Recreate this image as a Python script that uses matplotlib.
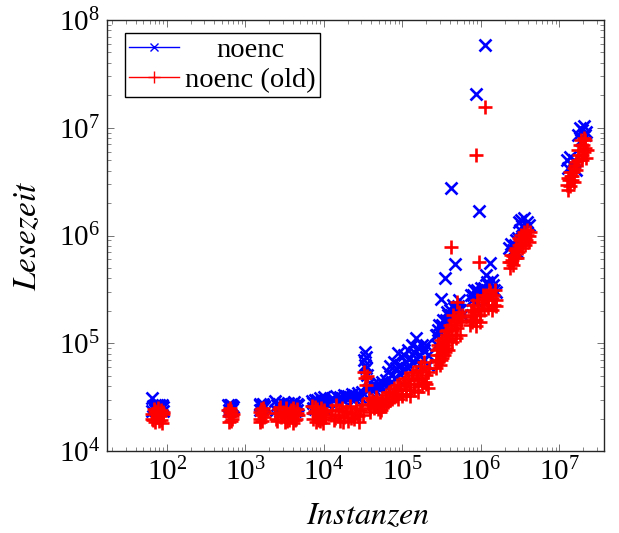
import matplotlib

matplotlib.use("Agg")
import matplotlib.pyplot as plt
from matplotlib.lines import Line2D
from matplotlib.ticker import FixedLocator, LogFormatterSciNotation, LogLocator, NullFormatter
import numpy as np

# Instanzen / Lesezeit, cluster by cluster
x_c1 = [64, 66, 68, 70, 72, 74, 76, 78, 80, 82, 84, 86, 88, 65, 71, 77, 83, 89]
noenc_c1 = [31000, 26000, 25000, 27000, 24500, 26500, 25500, 27000, 24000,
            26000, 25000, 26500, 25500, 23500, 24000, 23000, 24500, 23500]
old_c1 = [22000, 19500, 24500, 18500, 23000, 20500, 25000, 19000, 22500,
          21000, 24000, 18000, 22000, 20000, 23500, 21500, 19500, 23000]

x_c2 = [600, 615, 630, 645, 660, 675, 690, 608, 638, 668]
noenc_c2 = [27000, 26000, 26500, 25000, 27000, 26000, 25500, 24000, 23500, 24500]
old_c2 = [24000, 21000, 22500, 19000, 23500, 20000, 22000, 18500, 25000, 21000]

x_c3 = [1520, 1550, 1580, 1610, 1640, 1670, 1700, 1720, 1535, 1625]
noenc_c3 = [26500, 27500, 26000, 27000, 26500, 27500, 26000, 25500, 24000, 24500]
old_c3 = [23000, 20000, 24500, 19000, 22000, 25000, 20500, 23500, 18500, 21500]

x_c4 = [2400, 2550, 2700, 2850, 3000, 3150, 3300, 3450, 3600, 3750, 3900, 4050,
        4200, 4350, 4500, 4700, 2480, 2780, 3080, 3380, 3680, 3980, 4280, 4600]
noenc_c4 = [29000, 26500, 27500, 26000, 28000, 26500, 27000, 28000, 26000, 27500,
            26500, 27000, 28500, 26000, 27500, 26500, 24000, 23500, 24500, 24000,
            23000, 24500, 23500, 24000]
old_c4 = [22500, 19000, 24500, 20500, 23000, 18500, 25000, 21000, 19500, 24000,
          22000, 18000, 23500, 20000, 24500, 21500, 20000, 25500, 21500, 19000,
          23000, 25000, 19500, 22500]

x_c5 = [7000, 7300, 7600, 7900, 8200, 8500, 8800, 9100, 9400, 9700, 10000, 10300,
        7150, 7750, 8350, 8950, 9550, 10150]
noenc_c5 = [29000, 28000, 30000, 27500, 29500, 28500, 31000, 28000, 30000, 29000,
            31500, 28500, 25000, 24500, 25500, 24000, 25000, 24500]
old_c5 = [26000, 20000, 23500, 18500, 24500, 21000, 19000, 25000, 22000, 18000,
          23000, 20500, 22500, 25500, 19500, 23000, 20000, 24000]

x_c6 = [12600, 13400, 14200, 15100, 16000, 17000, 18000, 19100, 20300, 21500,
        22800, 24200, 25700, 27200, 28800, 30600, 32400, 33300, 34300, 35400,
        36400, 38600, 41000, 43400, 46100, 48900, 51700, 54900, 58200, 61700,
        65400, 69300, 73500, 78000, 82700, 87700, 93000, 98600, 104500, 111000,
        118000, 125000, 132500, 140500, 149000, 158000, 167000, 177000, 188000,
        199500, 211500]
noenc_c6 = [31000, 29700, 32400, 28500, 31700, 30400, 33100, 31000, 32400, 31700,
            33800, 31000, 32400, 34500, 31700, 35300, 69900, 83000, 58900, 50700,
            36800, 38500, 41000, 37600, 40100, 42800, 39300, 43700, 41000, 45600,
            54100, 61500, 50700, 66900, 58900, 81200, 62800, 56500, 77800, 66900,
            86600, 72800, 96300, 83000, 112000, 90400, 77800, 96300, 86600, 96300,
            77800]
old_c6 = [24000, 19400, 26700, 21600, 19000, 25000, 20700, 23500, 19000, 26100,
          22000, 19800, 25000, 21100, 24000, 26700, 54100, 47600, 41000, 49600,
          27300, 23000, 29700, 25000, 31700, 26700, 23000, 31000, 26100, 33100,
          28500, 35300, 30400, 38500, 32400, 36800, 41000, 33800, 43700, 36800,
          45600, 39300, 50700, 41900, 54100, 45600, 56500, 47600, 66900, 50700,
          54100]
# extra points of the red band
x_c6_b = [38600, 43400, 48900, 54900, 61700, 69300, 78000, 87700, 98600, 111000,
          125000, 140500, 158000, 177000, 199500, 211500,
          12200, 13800, 15500, 17500, 19700, 22100, 24800, 27900, 31500, 37500,
          42200, 47500, 53300, 59800, 67300, 75700, 85200, 95800, 108000, 121000,
          136000, 153000, 172000, 194000, 218000]
old_c6_b = [25000, 28500, 24500, 26100, 27900, 29700, 31700, 30400, 32400, 33800,
            32400, 36800, 35300, 40100, 41900, 38500,
            21600, 20200, 24000, 18600, 23000, 20200, 22500, 18600, 21600, 31000,
            26700, 29700, 24000, 29700, 35300, 33100, 41000, 36800, 47600, 41900,
            54100, 47600, 61500, 43700, 58900]
# extra points of the blue band
x_c6_m = [65400, 73500, 82700, 93000, 104500, 118000, 132500, 149000, 167000,
          188000, 211500, 33300, 34300]
noenc_c6_m = [41000, 43700, 47600, 51800, 56500, 58900, 66900, 72800, 62800,
              69900, 62800, 62800, 74000]

x_c7 = [267000, 275000, 283000, 300000, 309000, 318000, 337000, 348000, 358000,
        380000, 403000, 415000, 428000, 454000, 467000, 481000, 495000, 510000,
        540000, 573000]
noenc_c7 = [119000, 96300, 133000, 107000, 258000, 148000, 133000, 403000, 164000,
            183000, 204000, 183000, 174000, 213000, 543000, 195000, 204000, 220000,
            204000, 183000]
old_c7 = [69900, 86600, 96300, 77800, 107000, 90400, 112000, 83000, 129000,
          107000, 148000, 782000, 133000, 164000, 119000, 148000, 241000, 174000,
          159000, 183000]
x_c7_b = [267000, 283000, 300000, 318000, 337000, 358000, 380000, 428000, 481000,
          540000, 275000, 291000, 309000, 327000, 348000, 369000, 391000, 415000,
          441000, 467000, 495000, 525000, 557000]
old_c7_b = [58900, 66900, 62800, 72800, 77800, 90400, 86600, 102000, 112000, 119000,
            77800, 90400, 69900, 102000, 96300, 133000, 119000, 138000, 183000,
            159000, 138000, 195000, 164000]
x_c7_m = [275000, 291000, 327000, 369000, 441000, 525000]
noenc_c7_m = [119000, 148000, 164000, 195000, 226000, 252000]

x_c8 = [741000, 768000, 814000, 864000, 916000, 943000, 864000, 971000, 1030000,
        1090000, 1120000, 1160000, 1230000, 1300000, 1380000, 1460000, 1550000]
noenc_c8 = [280000, 252000, 312000, 246000, 286000, 1690000, 20600000, 262000,
            300000, 325000, 58700000, 430000, 347000, 556000, 386000, 312000, 300000]
old_c8 = [174000, 159000, 195000, 164000, 213000, 568000, 5580000, 183000, 241000,
          262000, 15600000, 280000, 252000, 300000, 262000, 226000, 252000]
x_c8_b = [724000, 790000, 864000, 971000, 1090000, 1230000, 1380000, 1550000,
          746000, 791000, 839000, 890000, 1000000, 1060000, 1190000, 1260000,
          1420000, 1510000]
old_c8_b = [148000, 164000, 146000, 159000, 204000, 213000, 204000, 220000,
            204000, 226000, 183000, 252000, 204000, 280000, 226000, 312000,
            280000, 312000]
x_c8_m = [791000, 890000, 1000000, 1190000, 1420000]
noenc_c8_m = [280000, 312000, 325000, 370000, 347000]

x_c9 = [2270000, 2410000, 2550000, 2710000, 2870000, 3050000, 3140000, 3230000,
        3330000, 3530000, 3630000, 3850000, 4090000]
noenc_c9 = [766000, 834000, 733000, 815000, 700000, 1330000, 1120000, 1390000,
            1220000, 1450000, 1170000, 1330000, 1250000]
old_c9 = [568000, 660000, 532000, 733000, 620000, 815000, 908000, 1010000, 766000,
          1080000, 948000, 1120000, 990000]
x_c9_b = [2340000, 2480000, 2630000, 2790000, 2960000, 3330000, 3740000, 4210000,
          2410000, 2550000, 2710000, 3050000, 3230000, 3430000, 3630000, 3850000,
          4090000]
old_c9_b = [499000, 593000, 660000, 766000, 700000, 834000, 908000, 1080000,
            568000, 640000, 620000, 948000, 815000, 908000, 815000, 1010000, 870000]
x_c9_m = [2790000, 2960000]
noenc_c9_m = [908000, 950000]

x_c10 = [12400000, 12800000, 13600000, 14400000, 15300000, 16200000, 17200000,
         18300000, 18800000, 19400000, 20500000, 21100000, 21800000]
noenc_c10 = [5020000, 4200000, 5300000, 4510000, 5020000, 4050000, 8570000,
             10000000, 7700000, 9530000, 10400000, 8570000, 9200000]
old_c10 = [2940000, 3400000, 3900000, 3270000, 4200000, 4800000, 6210000, 6920000,
           7700000, 5580000, 8000000, 6500000, 5250000]
x_c10_b = [12800000, 13600000, 14400000, 15300000, 16200000, 17200000, 19400000,
           20500000, 13200000, 14000000, 14900000, 15700000, 17700000, 19900000,
           21100000, 22400000]
old_c10_b = [2640000, 2880000, 3560000, 3130000, 4050000, 5020000, 5020000, 5950000,
             3270000, 3560000, 3900000, 4510000, 5580000, 6920000, 7700000, 6210000]

# the one outlier of noenc near 4e5 instances
x_out = [415000]
noenc_out = [2760000]

x_ticks = [1e2, 1e3, 1e4, 1e5, 1e6, 1e7]
y_ticks = [1e4, 1e5, 1e6, 1e7, 1e8]

BLUE = (0.0, 0.0, 1.0)
RED = (1.0, 0.0, 0.0)


def collect():
    noenc_x = (x_c1 + x_c2 + x_c3 + x_c4 + x_c5 + x_c6 + x_c6_m + x_c7 + x_c7_m
               + x_c8 + x_c8_m + x_c9 + x_c9_m + x_c10 + x_out)
    noenc_y = (noenc_c1 + noenc_c2 + noenc_c3 + noenc_c4 + noenc_c5 + noenc_c6
               + noenc_c6_m + noenc_c7 + noenc_c7_m + noenc_c8 + noenc_c8_m
               + noenc_c9 + noenc_c9_m + noenc_c10 + noenc_out)
    old_x = (x_c1 + x_c2 + x_c3 + x_c4 + x_c5 + x_c6 + x_c6_b + x_c7 + x_c7_b
             + x_c8 + x_c8_b + x_c9 + x_c9_b + x_c10 + x_c10_b)
    old_y = (old_c1 + old_c2 + old_c3 + old_c4 + old_c5 + old_c6 + old_c6_b
             + old_c7 + old_c7_b + old_c8 + old_c8_b + old_c9 + old_c9_b
             + old_c10 + old_c10_b)
    return (np.array(noenc_x), np.array(noenc_y)), (np.array(old_x), np.array(old_y))


def main():
    plt.rcParams["font.family"] = ["Liberation Serif", "DejaVu Serif"]
    plt.rcParams["mathtext.fontset"] = "stix"
    plt.rcParams["font.size"] = 21

    (nx, ny), (ox, oy) = collect()

    fig = plt.figure(figsize=(6.19, 5.33), dpi=100)
    ax = fig.add_axes([107 / 619, 82 / 533, 497 / 619, 431 / 533])

    ax.plot(nx, ny, linestyle="none", marker="x", color=BLUE, ms=8, mew=1.9)
    ax.plot(ox, oy, linestyle="none", marker="+", color=RED, ms=10, mew=1.9)

    ax.set_xscale("log")
    ax.set_yscale("log")
    ax.set_xlim(17.2, 3.7e7)
    ax.set_ylim(1e4, 1e8)

    ax.xaxis.set_major_locator(FixedLocator(x_ticks))
    ax.yaxis.set_major_locator(FixedLocator(y_ticks))
    for axis in (ax.xaxis, ax.yaxis):
        axis.set_major_formatter(LogFormatterSciNotation())
        axis.set_minor_locator(LogLocator(base=10, subs=np.arange(2, 10), numticks=20))
        axis.set_minor_formatter(NullFormatter())
    ax.tick_params(which="both", direction="in", top=True, right=True, color="0.45")
    ax.tick_params(which="major", length=5, width=0.7, pad=5)
    ax.tick_params(which="minor", length=3, width=0.6)
    for sp in ax.spines.values():
        sp.set_linewidth(1.0)
        sp.set_color("0.15")

    ax.set_xlabel(r"$Instanzen$", fontsize=23)
    ax.xaxis.set_label_coords(0.525, -0.118)
    ax.set_ylabel(r"$Lesezeit$", fontsize=24, labelpad=11)

    handles = [
        Line2D([], [], color=BLUE, lw=1.0, marker="x", ms=6, mew=1.0),
        Line2D([], [], color=RED, lw=1.0, marker="+", ms=8, mew=1.0),
    ]
    leg = ax.legend(handles, ["noenc", "noenc (old)"], loc="upper left",
                    bbox_to_anchor=(0.036, 0.970), borderaxespad=0,
                    fancybox=False, framealpha=1, edgecolor="black",
                    fontsize=20.5, handlelength=1.75, handletextpad=0.2,
                    borderpad=0.15, labelspacing=0.14)
    leg.get_frame().set_linewidth(1.0)

    # centre the shorter legend entry over the longer one, as in the original
    fig.canvas.draw()
    texts = leg.get_texts()
    widths = [t.get_window_extent().width for t in texts]
    texts[0].set_x((max(widths) - widths[0]) / 2)

    fig.savefig("out.png", dpi=100)
    plt.close(fig)


if __name__ == "__main__":
    main()
